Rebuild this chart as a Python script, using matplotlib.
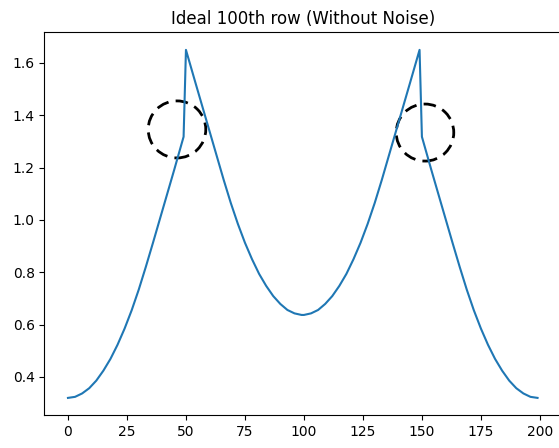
import matplotlib
matplotlib.use("Agg")
import matplotlib.pyplot as plt
from matplotlib.patches import Ellipse

# Sample positions (column index) along the 100th row
col_index = [0, 3, 6, 9, 12, 15, 18, 21, 24, 27, 30, 33, 36, 39, 42, 45, 49,
             50, 54, 57, 60, 63, 66, 69, 72, 75, 78, 81, 84, 87, 90, 93, 96, 99,
             100, 103, 106, 109, 112, 115, 118, 121, 124, 127, 130, 133, 136, 139, 142, 145, 149,
             150, 154, 157, 160, 163, 166, 169, 172, 175, 178, 181, 184, 187, 190, 193, 196, 199]
# Intensity
row_values = [0.320, 0.324, 0.337, 0.357, 0.386, 0.424, 0.469, 0.523, 0.585, 0.655, 0.734,
              0.821, 0.912, 1.005, 1.098, 1.191, 1.318,
              1.650, 1.525, 1.432, 1.339, 1.246, 1.153, 1.065, 0.985, 0.913, 0.850, 0.794,
              0.748, 0.709, 0.679, 0.656, 0.643, 0.637,
              0.637, 0.643, 0.656, 0.679, 0.709, 0.748, 0.794, 0.850, 0.913, 0.985, 1.065,
              1.153, 1.246, 1.339, 1.432, 1.525, 1.650,
              1.318, 1.191, 1.098, 1.005, 0.912, 0.821, 0.734, 0.655, 0.585, 0.523, 0.469,
              0.424, 0.386, 0.357, 0.337, 0.324, 0.320]

# Highlighted discontinuities (centre x, centre y)
circle_x = [46.2, 151.3]
circle_y = [1.346, 1.334]

fig = plt.figure(figsize=(5.59, 4.48), dpi=100)
ax = fig.add_axes([0.0796, 0.073, 0.924, 0.8545])
ax.plot(col_index, row_values, color="#1f77b4", lw=1.5)
for cx, cy in zip(circle_x, circle_y):
    ax.add_patch(Ellipse((cx, cy), width=24.4, height=0.218, fill=False,
                         edgecolor="black", linestyle=(0, (4.5, 2.6)), lw=2))
ax.set_title("Ideal 100th row (Without Noise)")
fig.savefig("out.png", dpi=100)
